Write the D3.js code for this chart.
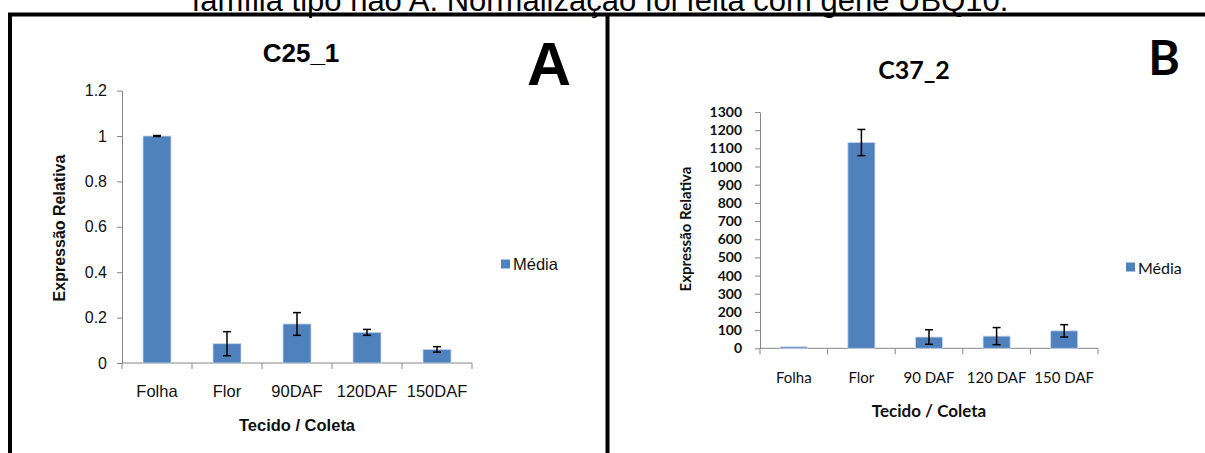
<!DOCTYPE html>
<html>
<head>
<meta charset="utf-8">
<script src="https://cdn.jsdelivr.net/npm/d3@7"></script>
<style>
  html, body { margin: 0; padding: 0; background: #fff; }
  svg { display: block; }
</style>
</head>
<body>
<svg id="fig" width="1205" height="453"></svg>
<script>
// Panel A: C25_1
const categoriesA = ["Folha", "Flor", "90DAF", "120DAF", "150DAF"];
const meanA = [1.0, 0.085, 0.172, 0.135, 0.06];
const errA = [0.002, 0.053, 0.05, 0.013, 0.012];
const ticksA = [0, 0.2, 0.4, 0.6, 0.8, 1, 1.2];

// Panel B: C37_2
const categoriesB = ["Folha", "Flor", "90 DAF", "120 DAF", "150 DAF"];
const meanB = [8, 1132, 62, 67, 96];
const errB = [0, 72, 40, 47, 34];
const ticksB = [0, 100, 200, 300, 400, 500, 600, 700, 800, 900, 1000, 1100, 1200, 1300];

const caption = "família tipo não A. Normalização foi feita com gene UBQ10.";
const barColor = "#4f81bd";
const axisColor = "#868686";

const svg = d3.select("#fig");

// caption running off the top edge
svg.append("text")
  .attr("x", 600).attr("y", 11)
  .attr("text-anchor", "middle")
  .style("font-family", "'Liberation Sans', Arial, sans-serif")
  .style("font-size", "31px")
  .attr("fill", "#000")
  .text(caption);

// frame lines
const frame = svg.append("g").attr("stroke", "#000").attr("stroke-width", 4);
frame.append("line").attr("x1", 8).attr("x2", 1205).attr("y1", 14.5).attr("y2", 14.5);
frame.append("line").attr("x1", 10).attr("x2", 10).attr("y1", 13).attr("y2", 453);
frame.append("line").attr("x1", 607.5).attr("x2", 607.5).attr("y1", 13).attr("y2", 453);

function panel(cfg) {
  const g = svg.append("g");
  const x = d3.scaleBand()
    .domain(cfg.categories)
    .range([cfg.x0, cfg.x1])
    .paddingInner(0.6)
    .paddingOuter(0.3);
  const y = d3.scaleLinear()
    .domain([0, cfg.ticks[cfg.ticks.length - 1]])
    .range([cfg.y0, cfg.y1]);

  // y axis
  const yAxis = d3.axisLeft(y)
    .tickValues(cfg.ticks)
    .tickSize(5)
    .tickSizeOuter(0)
    .tickPadding(cfg.tickPad)
    .tickFormat(d3.format("~g"));
  const ya = g.append("g").attr("transform", `translate(${cfg.x0},0)`).call(yAxis);
  ya.select(".domain").attr("stroke", axisColor);
  ya.selectAll(".tick line").attr("stroke", axisColor);
  ya.selectAll(".tick text")
    .attr("fill", "#111")
    .style("font-family", cfg.font)
    .style("font-size", cfg.tickFont)
    .style("font-weight", cfg.tickWeight);

  // x axis line with boundary ticks between categories
  const boundaries = d3.range(cfg.categories.length + 1).map(i => cfg.x0 + i * x.step());
  g.append("line")
    .attr("x1", cfg.x0).attr("x2", cfg.x1)
    .attr("y1", y(0)).attr("y2", y(0))
    .attr("stroke", axisColor);
  g.selectAll(".xtick").data(boundaries).join("line")
    .attr("class", "xtick")
    .attr("x1", d => d).attr("x2", d => d)
    .attr("y1", y(0)).attr("y2", y(0) + 6)
    .attr("stroke", axisColor);

  // category labels
  g.selectAll(".xlab").data(cfg.categories).join("text")
    .attr("class", "xlab")
    .attr("x", d => x(d) + x.bandwidth() / 2)
    .attr("y", cfg.xLabelY)
    .attr("text-anchor", "middle")
    .attr("dominant-baseline", "central")
    .attr("fill", "#111")
    .style("font-family", cfg.font)
    .style("font-size", cfg.xFont)
    .text(d => d);

  // bars
  g.selectAll(".bar").data(cfg.categories).join("rect")
    .attr("class", "bar")
    .attr("x", d => x(d))
    .attr("width", x.bandwidth())
    .attr("y", (d, i) => y(cfg.means[i]))
    .attr("height", (d, i) => y(0) - y(cfg.means[i]))
    .attr("fill", barColor)
    .attr("stroke", "#c9d6ea")
    .attr("stroke-width", 0.8);

  // error bars (skipped where no spread is given)
  const eb = g.append("g").attr("stroke", "#000").attr("stroke-width", 1.5);
  cfg.categories.forEach((c, i) => {
    if (!cfg.errs[i]) return;
    const cx = x(c) + x.bandwidth() / 2;
    const top = y(cfg.means[i] + cfg.errs[i]);
    const bot = y(cfg.means[i] - cfg.errs[i]);
    eb.append("line").attr("x1", cx).attr("x2", cx).attr("y1", top).attr("y2", bot);
    eb.append("line").attr("x1", cx - 4).attr("x2", cx + 4).attr("y1", top).attr("y2", top);
    eb.append("line").attr("x1", cx - 4).attr("x2", cx + 4).attr("y1", bot).attr("y2", bot);
  });

  // axis titles
  g.append("text")
    .attr("x", (cfg.x0 + cfg.x1) / 2)
    .attr("y", cfg.xTitleY)
    .attr("text-anchor", "middle")
    .attr("dominant-baseline", "central")
    .attr("fill", "#111")
    .style("font-family", cfg.font)
    .style("font-size", cfg.xTitleFont)
    .style("font-weight", "bold")
    .text("Tecido / Coleta");
  g.append("text")
    .attr("transform", `translate(${cfg.yTitleX},${cfg.yTitleY}) rotate(-90)`)
    .attr("text-anchor", "middle")
    .attr("dominant-baseline", "central")
    .attr("fill", "#111")
    .style("font-family", cfg.font)
    .style("font-size", cfg.yTitleFont)
    .style("font-weight", "bold")
    .text("Expressão Relativa");

  // chart title and panel letter
  g.append("text")
    .attr("x", cfg.titleX).attr("y", cfg.titleY)
    .attr("text-anchor", "middle")
    .attr("fill", "#000")
    .style("font-family", cfg.font)
    .style("font-size", cfg.titleFont)
    .style("font-weight", "bold")
    .text(cfg.title);
  g.append("text")
    .attr("x", cfg.letterX).attr("y", cfg.letterY)
    .attr("text-anchor", "middle")
    .attr("fill", "#000")
    .style("font-family", cfg.font)
    .style("font-size", cfg.letterFont)
    .style("font-weight", "bold")
    .text(cfg.letter);

  // legend
  g.append("rect")
    .attr("x", cfg.legX).attr("y", cfg.legY - 4.5)
    .attr("width", 9).attr("height", 9)
    .attr("fill", barColor);
  g.append("text")
    .attr("x", cfg.legX + 12).attr("y", cfg.legY)
    .attr("dominant-baseline", "central")
    .attr("fill", "#111")
    .style("font-family", cfg.font)
    .style("font-size", cfg.legFont)
    .text("Média");
}

panel({
  categories: categoriesA, means: meanA, errs: errA, ticks: ticksA,
  x0: 122, x1: 472, y0: 363, y1: 90.6,
  font: "'Liberation Sans', Arial, sans-serif",
  tickFont: "16px", tickWeight: "normal", tickPad: 10,
  xFont: "16.5px", xLabelY: 391,
  xTitleFont: "16.5px", xTitleY: 425,
  yTitleFont: "16px", yTitleX: 59, yTitleY: 228,
  title: "C25_1", titleX: 301, titleY: 62, titleFont: "26px",
  letter: "A", letterX: 549, letterY: 85, letterFont: "61px",
  legX: 501, legY: 264, legFont: "16.5px"
});

panel({
  categories: categoriesB, means: meanB, errs: errB, ticks: ticksB,
  x0: 760, x1: 1098, y0: 348.3, y1: 112,
  font: "Lato, 'Open Sans', sans-serif",
  tickFont: "14px", tickWeight: "bold", tickPad: 13,
  xFont: "15px", xLabelY: 377,
  xTitleFont: "17px", xTitleY: 410,
  yTitleFont: "15px", yTitleX: 685, yTitleY: 229,
  title: "C37_2", titleX: 914, titleY: 79, titleFont: "25px",
  letter: "B", letterX: 1164, letterY: 75, letterFont: "48px",
  legX: 1126, legY: 267, legFont: "16px"
});
</script>
</body>
</html>
